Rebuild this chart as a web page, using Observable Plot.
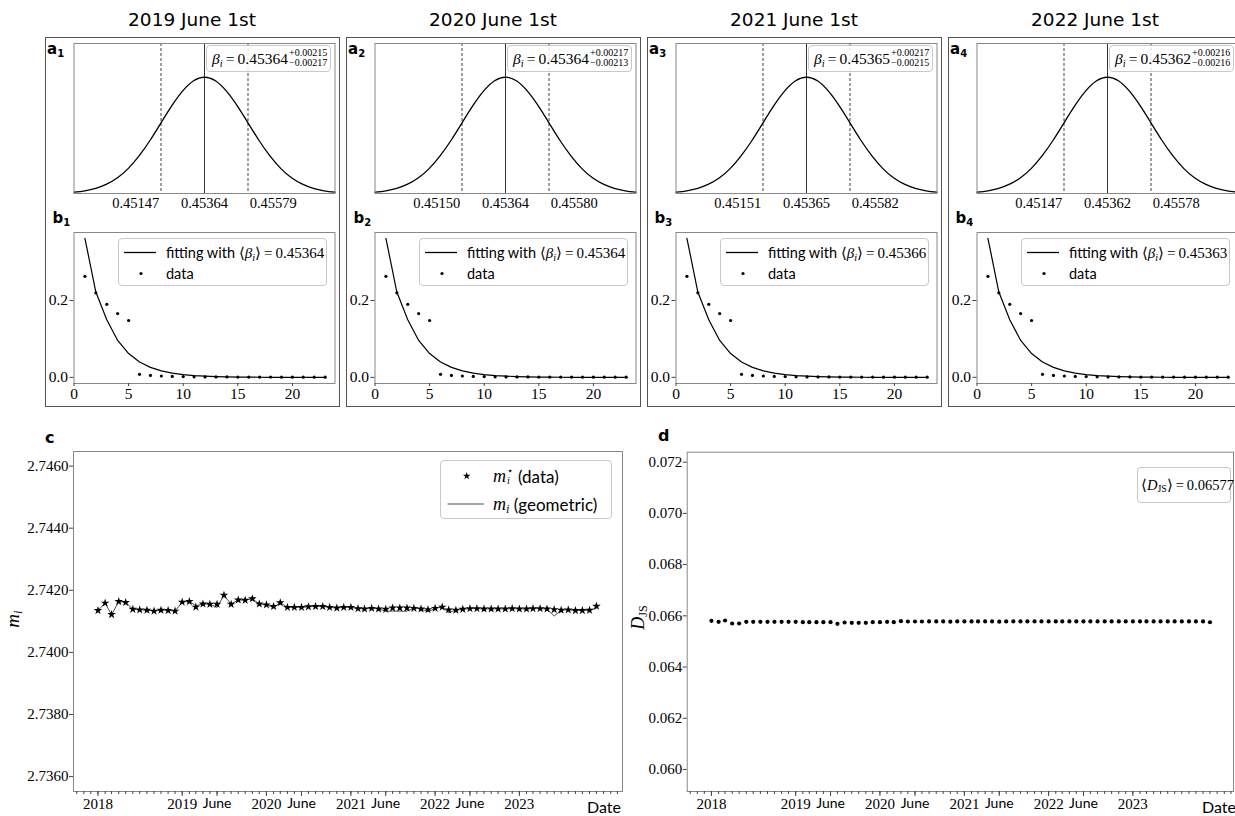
<!DOCTYPE html>
<html><head><meta charset="utf-8">
<script src="https://cdn.jsdelivr.net/npm/d3@7"></script>
<script src="https://cdn.jsdelivr.net/npm/@observablehq/plot@0.6"></script>
<style>
html,body{margin:0;padding:0;background:#fff;}
#root{position:relative;width:1235px;height:816px;overflow:hidden;font-family:Lato,sans-serif;color:#000;}
.box{position:absolute;border:1.5px solid #555;box-sizing:border-box;}
.title{position:absolute;font-family:"DejaVu Sans",sans-serif;font-size:18.5px;text-align:center;width:295px;line-height:22px;}
.plabel{position:absolute;font-family:"DejaVu Sans",sans-serif;font-weight:bold;font-size:15px;line-height:18px;}
.plabel sub{font-size:10px;vertical-align:-3px;line-height:0;}
.m{font-family:"Liberation Serif",serif;}
.m i{font-style:italic;}
.m sub{font-size:0.68em;vertical-align:-0.25em;line-height:0;}
.legend{position:absolute;border:1px solid #c8c8c8;border-radius:4px;background:rgba(255,255,255,0.85);box-sizing:border-box;}
.row{position:absolute;white-space:nowrap;display:flex;align-items:center;}
.abs{position:absolute;white-space:nowrap;}
</style>
</head>
<body>
<div id="root"></div>
<script>
// ---------------- DATA ----------------
const titles = ["2019 June 1st", "2020 June 1st", "2021 June 1st", "2022 June 1st"];
const betaTickLabels = [
  ["0.45147", "0.45364", "0.45579"],
  ["0.45150", "0.45364", "0.45580"],
  ["0.45151", "0.45365", "0.45582"],
  ["0.45147", "0.45362", "0.45578"]
];
const betaTickPos = [-1.58, 0, 1.58];
const betaCenter = ["0.45364", "0.45364", "0.45365", "0.45362"];
const betaPlus = ["+0.00215", "+0.00217", "+0.00217", "+0.00216"];
const betaMinus = ["\u22120.00217", "\u22120.00213", "\u22120.00215", "\u22120.00216"];
const betaMean = ["0.45364", "0.45364", "0.45366", "0.45363"];

// posterior curve (in units of sigma from the centre) and its relative height
const gaussZ = [-3, -2.75, -2.5, -2.25, -2, -1.75, -1.5, -1.25, -1, -0.75, -0.5, -0.25, 0,
                0.25, 0.5, 0.75, 1, 1.25, 1.5, 1.75, 2, 2.25, 2.5, 2.75, 3];
const gaussH = [0.011, 0.023, 0.044, 0.080, 0.135, 0.216, 0.325, 0.458, 0.607, 0.755, 0.882, 0.969, 1.0,
                0.969, 0.882, 0.755, 0.607, 0.458, 0.325, 0.216, 0.135, 0.080, 0.044, 0.023, 0.011];
const sigmaMarks = [-1, 1];

// degree distribution
const degreeK = [1,2,3,4,5,6,7,8,9,10,11,12,13,14,15,16,17,18,19,20,21,22,23];
const degreeData = [0.263, 0.220, 0.190, 0.166, 0.148, 0.008, 0.005, 0.0035, 0.0025, 0.002, 0.0015, 0.001,
                    0.001, 0.001, 0.0008, 0.0008, 0.0006, 0.0006, 0.0005, 0.0005, 0.0005, 0.0005, 0.0005];
const degreeFit = [0.362, 0.222, 0.150, 0.096, 0.062, 0.040, 0.026, 0.017, 0.011, 0.007, 0.0045, 0.003,
                   0.002, 0.0013, 0.0008, 0.0005, 0.0003, 0.0002, 0.0001, 0.0001, 0, 0, 0];

// monthly series, Jan 2018 .. Dec 2023
const months = d3.utcMonth.range(new Date("2018-01-01"), new Date("2024-01-01"));
const mData = [
  2.74135, 2.74159, 2.74122, 2.74164, 2.74161, 2.74139, 2.74137, 2.74136, 2.74133, 2.74136, 2.74135, 2.74133,
  2.74162, 2.74164, 2.74146, 2.74156, 2.74155, 2.74155, 2.74184, 2.74155, 2.74169, 2.74168, 2.74173, 2.74156,
  2.74153, 2.74148, 2.74160, 2.74145, 2.74145, 2.74145, 2.74147, 2.74148, 2.74148, 2.74145, 2.74143, 2.74145,
  2.74145, 2.74141, 2.74140, 2.74142, 2.74140, 2.74139, 2.74143, 2.74143, 2.74143, 2.74142, 2.74140, 2.74138,
  2.74142, 2.74146, 2.74137, 2.74136, 2.74139, 2.74141, 2.74141, 2.74140, 2.74140, 2.74140, 2.74140, 2.74141,
  2.74140, 2.74140, 2.74141, 2.74141, 2.74140, 2.74138, 2.74136, 2.74137, 2.74135, 2.74135, 2.74136, 2.74149
];
const mGeo = [
  2.74135, 2.74159, 2.74121, 2.74164, 2.74161, 2.74139, 2.74137, 2.74136, 2.74133, 2.74136, 2.74135, 2.74133,
  2.74162, 2.74164, 2.74150, 2.74156, 2.74155, 2.74145, 2.74184, 2.74155, 2.74169, 2.74168, 2.74173, 2.74156,
  2.74153, 2.74145, 2.74160, 2.74145, 2.74145, 2.74145, 2.74147, 2.74148, 2.74148, 2.74145, 2.74143, 2.74145,
  2.74145, 2.74141, 2.74140, 2.74142, 2.74140, 2.74133, 2.74133, 2.74133, 2.74133, 2.74142, 2.74140, 2.74131,
  2.74142, 2.74146, 2.74128, 2.74136, 2.74139, 2.74141, 2.74141, 2.74140, 2.74140, 2.74140, 2.74140, 2.74141,
  2.74140, 2.74140, 2.74141, 2.74141, 2.74140, 2.74117, 2.74136, 2.74137, 2.74135, 2.74135, 2.74136, 2.74142
];
const dJS = [
  0.065805, 0.065766, 0.065818, 0.065701, 0.065701, 0.065766, 0.065766, 0.065766, 0.065766, 0.065766, 0.065766, 0.065766,
  0.065766, 0.065753, 0.065753, 0.065753, 0.065753, 0.065753, 0.065688, 0.065740, 0.065727, 0.065727, 0.065727, 0.065753,
  0.065753, 0.065766, 0.065753, 0.065792, 0.065779, 0.065779, 0.065779, 0.065780, 0.065780, 0.065780, 0.065770, 0.065780,
  0.065780, 0.065780, 0.065780, 0.065780, 0.065780, 0.065770, 0.065780, 0.065780, 0.065780, 0.065780, 0.065780, 0.065780,
  0.065780, 0.065780, 0.065780, 0.065780, 0.065780, 0.065780, 0.065780, 0.065780, 0.065780, 0.065780, 0.065780, 0.065780,
  0.065780, 0.065780, 0.065780, 0.065780, 0.065780, 0.065780, 0.065780, 0.065780, 0.065780, 0.065780, 0.065780, 0.065750
];
const mTicks = [2.736, 2.738, 2.740, 2.742, 2.744, 2.746];
const dTicks = [0.060, 0.062, 0.064, 0.066, 0.068, 0.070, 0.072];
const yearTicks = ["2018-01-01", "2019-01-01", "2020-01-01", "2021-01-01", "2022-01-01", "2023-01-01"].map(s => new Date(s));
const juneTicks = ["2019-06-01", "2020-06-01", "2021-06-01", "2022-06-01"].map(s => new Date(s));
const minorTicks = d3.utcMonth.range(new Date("2017-10-01"), new Date("2024-04-01"));

// ---------------- LAYOUT HELPERS ----------------
const root = document.getElementById("root");
const SERIF = "'Liberation Serif', serif";
const SANS = "Lato, sans-serif";
function place(el, left, top) {
  el.style.position = "absolute";
  el.style.left = left + "px";
  el.style.top = top + "px";
  el.style.overflow = "visible";
  el.querySelectorAll("text").forEach(t => {
    t.style.fontFamily = t.textContent.trim() === "June" ? SANS : SERIF;
  });
  root.appendChild(el);
  return el;
}
function div(cls, left, top, htmlStr, extra) {
  const d = document.createElement("div");
  d.className = cls;
  d.innerHTML = htmlStr;
  d.style.left = left + "px";
  d.style.top = top + "px";
  if (extra) Object.assign(d.style, extra);
  root.appendChild(d);
  return d;
}
const baseStyle = {background: "transparent", overflow: "visible", color: "#000", fontFamily: SERIF};

// ---------------- TOP PANELS ----------------
const gauss = gaussZ.map((z, i) => ({z, h: gaussH[i]}));
const degree = degreeK.map((k, i) => ({k, data: degreeData[i], fit: degreeFit[i]}));

for (let p = 0; p < 4; p++) {
  const off = 44.5 + 301 * p;
  div("box", off, 37, "", {width: "295px", height: "370px"});
  div("title", off, 9, titles[p]);

  const labels = betaTickLabels[p];
  const pa = Plot.plot({
    width: 295, height: 185,
    marginLeft: 28.5, marginRight: 5.5, marginTop: 6, marginBottom: 29,
    x: {domain: [-3, 3]},
    y: {domain: [0, 1.29], axis: null},
    style: baseStyle,
    marks: [
      Plot.ruleX(sigmaMarks, {stroke: "#111", strokeWidth: 0.8, strokeDasharray: "3,2"}),
      Plot.ruleX([0], {stroke: "#333", strokeWidth: 1}),
      Plot.line(gauss, {x: "z", y: "h", curve: "natural", stroke: "#000", strokeWidth: 1.3}),
      Plot.frame({stroke: "#888"}),
      Plot.axisX(betaTickPos, {tickSize: 0, tickPadding: 4, label: null,
        tickFormat: d => labels[betaTickPos.indexOf(d)], fontSize: 14.5})
    ]
  });
  place(pa, off, 37);

  const pb = Plot.plot({
    width: 295, height: 182,
    marginLeft: 28.5, marginRight: 5.5, marginTop: 7, marginBottom: 24,
    x: {domain: [0, 23.9]},
    y: {domain: [-0.016, 0.377]},
    style: baseStyle,
    marks: [
      Plot.frame({stroke: "#888"}),
      Plot.line(degree, {x: "k", y: "fit", stroke: "#000", strokeWidth: 1.2}),
      Plot.dot(degree, {x: "k", y: "data", r: 1.6, fill: "#000", stroke: null}),
      Plot.axisX([0, 5, 10, 15, 20], {tickSize: 3, tickPadding: 1, label: null, fontSize: 15.5, stroke: "#444"}),
      Plot.axisY([0, 0.2], {tickSize: 4, tickPadding: 2, label: null, tickFormat: d3.format(".1f"), fontSize: 15.5, stroke: "#444"})
    ]
  });
  place(pb, off, 225);

  div("plabel", off + 2.5, 40, "a<sub>" + (p + 1) + "</sub>");
  div("plabel", off + 8, 209, "b<sub>" + (p + 1) + "</sub>");

  // legend a
  const la = div("legend", off + 161.5, 45, "", {width: "125px", height: "27px"});
  la.innerHTML = `<div class="row m" style="left:5px;top:0;height:26px;font-size:15.5px;">
      <span><i>β</i><sub><i>i</i></sub>&thinsp;=&thinsp;${betaCenter[p]}</span>
      <span style="display:inline-flex;flex-direction:column;font-size:10px;line-height:10px;margin-left:1px;margin-top:-2px">
        <span>${betaPlus[p]}</span><span>${betaMinus[p]}</span></span></div>`;

  // legend b
  const lb = div("legend", off + 73.5, 238, "", {width: "209px", height: "48px"});
  lb.innerHTML = `
    <svg style="position:absolute;left:0;top:0" width="209" height="48">
      <line x1="5" x2="37" y1="13.5" y2="13.5" stroke="#000" stroke-width="1.3"/>
      <circle cx="22" cy="34.5" r="1.6" fill="#000"/>
    </svg>
    <div class="row" style="left:47px;top:4px;height:19px;font-size:14.5px;font-family:${SANS}"><span>fitting with&nbsp;</span><span class="m" style="font-size:15px">⟨<i>β</i><sub><i>i</i></sub>⟩&thinsp;=&thinsp;${betaMean[p]}</span></div>
    <div class="row" style="left:47px;top:25px;height:19px;font-size:14.5px;font-family:${SANS}">data</div>`;
}

// ---------------- BOTTOM PANELS ----------------
const series = months.map((d, i) => ({date: d, m: mData[i], g: mGeo[i], d: dJS[i]}));

function dateAxes(fs) {
  return [
    Plot.axisX(minorTicks, {tickSize: 3, text: null, label: null, stroke: "#444"}),
    Plot.axisX(yearTicks, {tickSize: 5, tickPadding: 2, label: null, tickFormat: d3.utcFormat("%Y"),
      fontSize: fs, stroke: "#444"}),
    Plot.axisX(juneTicks, {tickSize: 5, tickPadding: 2, label: null, tickFormat: () => "June",
      fontSize: 14, stroke: "#444"})
  ];
}

const pc = Plot.plot({
  width: 630, height: 376,
  marginLeft: 73, marginRight: 8, marginTop: 11, marginBottom: 25,
  x: {type: "utc", domain: [new Date("2017-09-17"), new Date("2024-03-23")]},
  y: {domain: [2.73552, 2.74647]},
  style: baseStyle,
  marks: [
    Plot.frame({stroke: "#888"}),
    Plot.line(series, {x: "date", y: "g", stroke: "#222", strokeWidth: 0.8}),
    Plot.dot(series, {x: "date", y: "m", symbol: "star", r: 2.7, fill: "#000", stroke: null}),
    Plot.axisY(mTicks, {tickSize: 4, tickPadding: 1, label: null, tickFormat: d3.format(".4f"),
      fontSize: 15, stroke: "#444"}),
    ...dateAxes(15)
  ]
});
place(pc, 0, 440);

const pd = Plot.plot({
  width: 605, height: 376,
  marginLeft: 56.7, marginRight: 2, marginTop: 11.7, marginBottom: 25,
  x: {type: "utc", domain: [new Date("2017-09-18"), new Date("2024-03-12")]},
  y: {domain: [0.05914, 0.07239]},
  style: baseStyle,
  marks: [
    Plot.frame({stroke: "#888"}),
    Plot.dot(series, {x: "date", y: "d", r: 2.1, fill: "#000", stroke: null}),
    Plot.axisY(dTicks, {tickSize: 4, tickPadding: 1, label: null, tickFormat: d3.format(".3f"),
      fontSize: 15, stroke: "#444"}),
    ...dateAxes(15)
  ]
});
place(pd, 630, 440);

// panel labels
div("plabel", 45, 429, "c", {fontSize: "16px"});
div("plabel", 658, 427, "d", {fontSize: "16px"});

// axis titles
div("abs m", 4, 608, "<i>m</i><sub><i>i</i></sub>", {fontSize: "19px", transform: "rotate(-90deg)", transformOrigin: "center"});
div("abs m", 626, 607, "<i>D</i><sub>JS</sub>", {fontSize: "18px", transform: "rotate(-90deg)", transformOrigin: "center"});
div("abs", 587, 797, "Date", {fontSize: "16px", fontFamily: SANS});
div("abs", 1202, 797, "Date", {fontSize: "16px", fontFamily: SANS});

// legend c
const lc = div("legend", 440, 460, "", {width: "172px", height: "59px"});
lc.innerHTML = `
  <svg style="position:absolute;left:0;top:0" width="172" height="59">
    <path transform="translate(25.7,15)" d="${d3.symbol(d3.symbolStar, 18)()}" fill="#000"/>
    <line x1="6.5" x2="43" y1="43" y2="43" stroke="#222" stroke-width="0.8"/>
  </svg>
  <div class="row" style="left:52px;top:3px;height:24px;font-size:17px;font-family:${SANS}">
    <span class="m" style="display:inline-flex;align-items:center;font-size:18px"><i>m</i><span style="display:inline-flex;flex-direction:column;font-size:10px;line-height:10px;margin-left:1px;margin-right:5px"><span>⋆</span><i>i</i></span></span><span>(data)</span></div>
  <div class="row" style="left:52px;top:31px;height:24px;font-size:17px;font-family:${SANS}">
    <span class="m" style="font-size:18px"><i>m</i><sub><i>i</i></sub></span><span>&nbsp;(geometric)</span></div>`;

// legend d
const ld = div("legend", 1137, 467, "", {width: "94px", height: "36px"});
ld.innerHTML = `<div class="row m" style="left:3px;top:0;height:34px;font-size:14.5px;"><span>⟨<i>D</i><sub>JS</sub>⟩&thinsp;=&thinsp;0.06577</span></div>`;
</script>
</body></html>
